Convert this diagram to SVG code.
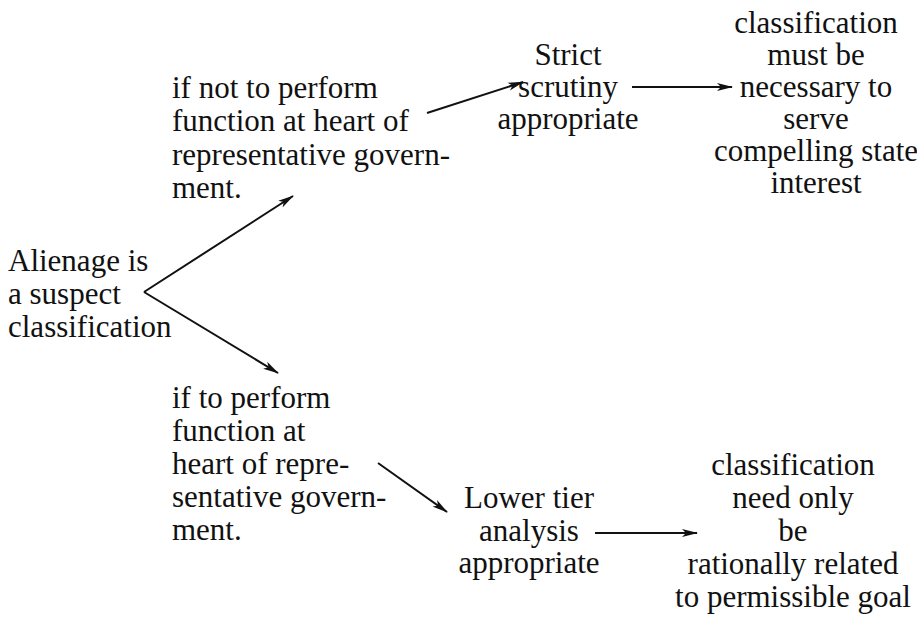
<svg xmlns="http://www.w3.org/2000/svg" width="917" height="622" viewBox="0 0 917 622">
<defs>
<style>
text{font-family:"Liberation Serif","Times New Roman",serif;font-size:31px;fill:#111;}
.c{text-anchor:middle;}
.ln{stroke:#111;stroke-width:2;fill:none;}
</style>
<marker id="ah" viewBox="0 0 16 10" markerWidth="16" markerHeight="10" refX="15" refY="5" orient="auto" markerUnits="userSpaceOnUse">
<path d="M0,1 L16,5 L0,9 L4,5 z" fill="#111"/>
</marker>
</defs>
<rect width="917" height="622" fill="#fff"/>
<g id="alienage">
<text x="8" y="271">Alienage is</text>
<text x="8" y="304">a suspect</text>
<text x="8" y="337">classification</text>
</g>
<g id="if-not">
<text x="172" y="98">if not to perform</text>
<text x="172" y="131">function at heart of</text>
<text x="172" y="165">representative govern-</text>
<text x="172" y="198">ment.</text>
</g>
<g id="strict">
<text class="c" x="568" y="65">Strict</text>
<text class="c" x="568" y="97">scrutiny</text>
<text class="c" x="568" y="129">appropriate</text>
</g>
<g id="compelling">
<text class="c" x="816" y="33">classification</text>
<text class="c" x="816" y="65">must be</text>
<text class="c" x="816" y="97">necessary to</text>
<text class="c" x="816" y="129">serve</text>
<text class="c" x="816" y="161">compelling state</text>
<text class="c" x="816" y="193">interest</text>
</g>
<g id="if-to">
<text x="172" y="408">if to perform</text>
<text x="172" y="441">function at</text>
<text x="172" y="474">heart of repre-</text>
<text x="172" y="507">sentative govern-</text>
<text x="172" y="540">ment.</text>
</g>
<g id="lower">
<text class="c" x="529" y="508">Lower tier</text>
<text class="c" x="529" y="541">analysis</text>
<text class="c" x="529" y="573">appropriate</text>
</g>
<g id="rational">
<text class="c" x="793" y="475">classification</text>
<text class="c" x="793" y="508">need only</text>
<text class="c" x="793" y="541">be</text>
<text class="c" x="793" y="574">rationally related</text>
<text class="c" x="793" y="607">to permissible goal</text>
</g>
<g id="connectors">
<path class="ln" d="M144,292 L293,196" marker-end="url(#ah)"/>
<path class="ln" d="M144,292 L278,373" marker-end="url(#ah)"/>
<path class="ln" d="M427,113 L523,82" marker-end="url(#ah)"/>
<path class="ln" d="M632,87 L732,87" marker-end="url(#ah)"/>
<path class="ln" d="M378,463 L447,512" marker-end="url(#ah)"/>
<path class="ln" d="M595,533 L697,533" marker-end="url(#ah)"/>
</g>
</svg>
